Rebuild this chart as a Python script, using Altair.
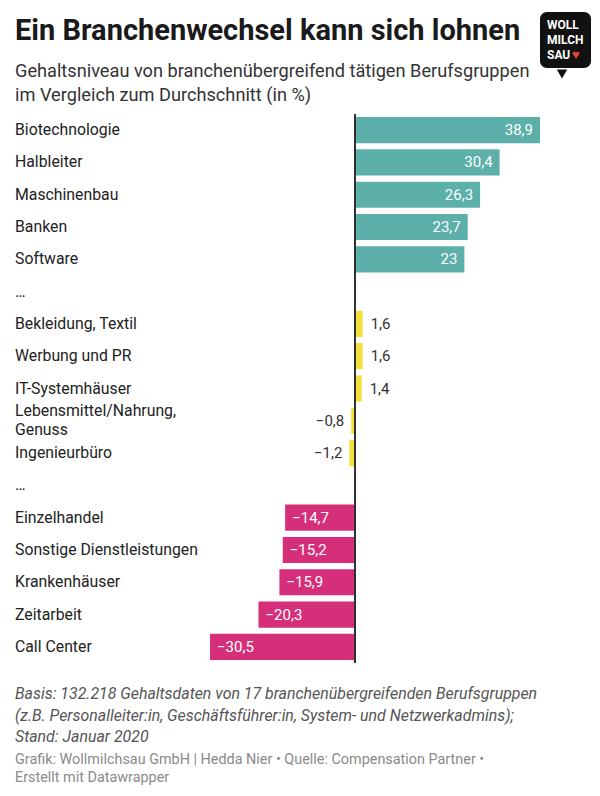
import altair as alt
import pandas as pd

# ---- data ----
categories = [
    "Biotechnologie", "Halbleiter", "Maschinenbau", "Banken", "Software", "…",
    "Bekleidung, Textil", "Werbung und PR", "IT-Systemhäuser",
    "Lebensmittel/Nahrung,\nGenuss", "Ingenieurbüro", "… ",
    "Einzelhandel", "Sonstige Dienstleistungen", "Krankenhäuser", "Zeitarbeit", "Call Center",
]
values = [38.9, 30.4, 26.3, 23.7, 23.0, None,
          1.6, 1.6, 1.4, -0.8, -1.2, None,
          -14.7, -15.2, -15.9, -20.3, -30.5]
groups = ["oben"] * 5 + [None] + ["mitte"] * 5 + [None] + ["unten"] * 5
group_names = ["oben", "mitte", "unten"]
group_colors = ["#5cb0a9", "#f2e03c", "#d62f7a"]

title_text = "Ein Branchenwechsel kann sich lohnen"
subtitle_text = ("Gehaltsniveau von branchenübergreifend tätigen Berufsgruppen\n"
                 "im Vergleich zum Durchschnitt (in %)")
notes_text = ("Basis: 132.218 Gehaltsdaten von 17 branchenübergreifenden Berufsgruppen\n"
              "(z.B. Personalleiter:in, Geschäftsführer:in, System- und Netzwerkadmins);\n"
              "Stand: Januar 2020")
credit_text = ("Grafik: Wollmilchsau GmbH | Hedda Nier • Quelle: Compensation Partner •\n"
               "Erstellt mit Datawrapper")


def fmt(v):
    if v is None:
        return ""
    s = f"{v:.1f}".rstrip("0").rstrip(".")
    return s.replace(".", ",").replace("-", "\u2212")


df = pd.DataFrame({
    "kat": categories,
    "v": values,
    "gruppe": groups,
    "label": [fmt(v) for v in values],
})

W, H = 330, 549
FONT = "Roboto"

y_enc = alt.Y("kat:N", sort=categories, axis=None,
              scale=alt.Scale(paddingInner=0.19, paddingOuter=0.095))
x_enc = alt.X("v:Q", axis=None,
              scale=alt.Scale(domain=[-30.5, 38.9], nice=False, zero=True))

base = alt.Chart(df)

bars = base.mark_bar().encode(
    x=x_enc, y=y_enc,
    color=alt.Color("gruppe:N", legend=None,
                    scale=alt.Scale(domain=group_names, range=group_colors)),
)

zero_rule = base.mark_rule(color="#333333", strokeWidth=1).encode(
    x=alt.X(datum=0, axis=None))

lab_kw = dict(font=FONT, fontSize=15, baseline="middle")
in_pos = base.transform_filter("datum.v >= 5").mark_text(
    align="right", dx=-7, color="white", **lab_kw).encode(x=x_enc, y=y_enc, text="label:N")
in_neg = base.transform_filter("datum.v <= -5").mark_text(
    align="left", dx=7, color="white", **lab_kw).encode(x=x_enc, y=y_enc, text="label:N")
out_pos = base.transform_filter("datum.v > 0 && datum.v < 5").mark_text(
    align="left", dx=8, color="#333333", **lab_kw).encode(x=x_enc, y=y_enc, text="label:N")
out_neg = base.transform_filter("datum.v < 0 && datum.v > -5").mark_text(
    align="right", dx=-7, color="#333333", **lab_kw).encode(x=x_enc, y=y_enc, text="label:N")

cat_kw = dict(align="left", baseline="middle", font=FONT, fontSize=15.8,
              color="#222222", lineBreak="\n", lineHeight=19, dx=-195)
cat_single = base.transform_filter("indexof(datum.kat, '\\n') < 0").mark_text(
    **cat_kw).encode(x=alt.value(0), y=y_enc, text="kat:N")
cat_multi = base.transform_filter("indexof(datum.kat, '\\n') >= 0").mark_text(
    dy=-9.5, **cat_kw).encode(x=alt.value(0), y=y_enc, text="kat:N")


def px(field):
    return alt.X(f"{field}:Q", scale=None, axis=None)


def py(field):
    return alt.Y(f"{field}:Q", scale=None, axis=None)


# ---- headings and notes as text (pixel layout) ----
texts = pd.DataFrame({
    "t": [title_text, subtitle_text, notes_text, credit_text],
    "px": [-195, -195, -195, -195],
    "py": [-74, -37, H + 36, H + 101],
    "kind": ["title", "sub", "notes", "credits"],
})
tb = alt.Chart(texts)
title = tb.transform_filter("datum.kind == 'title'").mark_text(
    align="left", baseline="alphabetic", font=FONT, fontSize=29,
    fontWeight="bold", color="#1a1a1a").encode(x=px("px"), y=py("py"), text="t:N")
sub = tb.transform_filter("datum.kind == 'sub'").mark_text(
    align="left", baseline="alphabetic", font=FONT, fontSize=18.2, color="#333333",
    lineBreak="\n", lineHeight=24).encode(x=px("px"), y=py("py"), text="t:N")
notes = tb.transform_filter("datum.kind == 'notes'").mark_text(
    align="left", baseline="alphabetic", font=FONT, fontSize=15.9, fontStyle="italic",
    color="#555555", lineBreak="\n", lineHeight=21.5).encode(x=px("px"), y=py("py"), text="t:N")
credits = tb.transform_filter("datum.kind == 'credits'").mark_text(
    align="left", baseline="alphabetic", font=FONT, fontSize=14.4,
    color="#8a8a8a", lineBreak="\n", lineHeight=18).encode(x=px("px"), y=py("py"), text="t:N")

# ---- logo (decoration) ----
logo_box = alt.Chart(pd.DataFrame({"x1": [330], "x2": [381], "y1": [-102], "y2": [-46]})).mark_rect(
    color="#111111", cornerRadius=7).encode(
    x=px("x1"), x2="x2:Q", y=py("y1"), y2="y2:Q")
logo_tail = alt.Chart(pd.DataFrame({"x": [352], "y": [-40]})).mark_point(
    shape="triangle-down", filled=True, color="#111111", size=110, opacity=1).encode(
    x=px("x"), y=py("y"))
logo_words = alt.Chart(pd.DataFrame({"t": ["WOLL", "MILCH", "SAU"],
                                     "x": [337, 337, 337],
                                     "y": [-89, -74, -59]})).mark_text(
    align="left", baseline="middle", font=FONT, fontSize=12, fontWeight="bold",
    color="white").encode(x=px("x"), y=py("y"), text="t:N")
logo_heart = alt.Chart(pd.DataFrame({"t": ["\u2665"], "x": [362], "y": [-59]})).mark_text(
    align="left", baseline="middle", fontSize=13, color="#e8463c").encode(
    x=px("x"), y=py("y"), text="t:N")

chart = alt.layer(
    bars, zero_rule, in_pos, in_neg, out_pos, out_neg, cat_single, cat_multi,
    title, sub, notes, credits, logo_box, logo_tail, logo_words, logo_heart,
).properties(
    width=W, height=H,
    autosize=alt.AutoSizeParams(type="none"),
    padding={"left": 202, "top": 106, "right": 52, "bottom": 128},
    background="white",
).configure_view(stroke=None)

chart.save("out.html", embed_options={"renderer": "svg", "actions": False})
